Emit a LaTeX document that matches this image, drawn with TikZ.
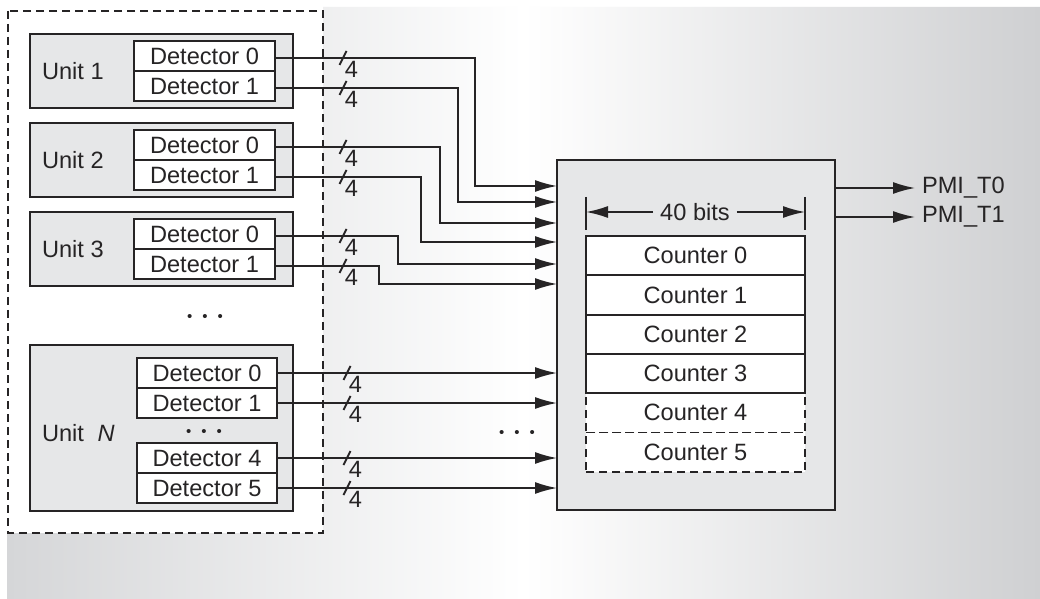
\documentclass[tikz,border=0pt]{standalone}
\usepackage{fontspec}
\setmainfont{Liberation Sans}
\usetikzlibrary{arrows.meta, positioning, math}
\definecolor{ink}{RGB}{38,36,37}
\definecolor{unitgray}{RGB}{230,231,232}
\definecolor{bgleft}{RGB}{213,214,216}
\definecolor{bgright}{RGB}{207,208,210}
\newcommand{\dotrow}{{\fontsize{7.5}{8}\selectfont\textbullet\hspace{5pt}\textbullet\hspace{5pt}\textbullet}}

\begin{document}
\begin{tikzpicture}[x=0.5pt, y=-0.5pt, font=\fontsize{11.8}{14}\selectfont, text=ink,
  box/.style={draw=ink, line width=0.9pt, inner sep=0pt, outer sep=0pt, anchor=north west},
  unitbox/.style={box, fill=unitgray, minimum width=131.5pt},
  detbox/.style={box, fill=white, minimum width=70.5pt, minimum height=15pt},
  cntrow/.style={box, fill=white, minimum width=109.5pt, minimum height=19.65pt},
  dashbox/.style={dash pattern=on 4pt off 2.5pt},
  sig/.style={draw=ink, line width=0.8pt},
  arr/.style={sig, -{Latex[length=11pt, width=6pt]}}]
\tikzmath{
\rowh=39.3;
\rowtop=236;
}
\useasboundingbox (0,0) rectangle (1040,599);

%background
\fill[white] (0,0) rectangle (1040,599);
\shade[left color=bgleft, right color=bgright, middle color=white]
  (323,7) -- (1040,7) -- (1040,599) -- (7,599) -- (7,533) -- (323,533) -- cycle;
\draw[ink, line width=0.8pt, dashbox] (8,11) rectangle (323,533);

%units 1 to 3
\foreach \k/\uy in {1/34, 2/123, 3/212}{
  \node[unitbox, minimum height=37pt] (u\k) at (30,\uy) {};
  \node[anchor=west] (u\k-lbl) at (35,{\uy+37}) {Unit \k};
  \node[detbox] (u\k-d0) at (134,{\uy+7}) {Detector 0};
  \node[detbox, below=0pt of u\k-d0] (u\k-d1) {Detector 1};
}
\node (dotsU) at (205,318) {\dotrow};

%unit N
\node[unitbox, minimum height=83pt] (uN) at (30,345) {};
\node[anchor=west] (uN-lbl) at (35,433) {Unit\hspace{0.3em} \textit{N}};
\node[detbox, minimum width=70pt] (uN-d0) at (137,358) {Detector 0};
\node[detbox, minimum width=70pt, below=0pt of uN-d0] (uN-d1) {Detector 1};
\node (dotsN) at (204,433) {\dotrow};
\node[detbox, minimum width=70pt] (uN-d4) at (137,443) {Detector 4};
\node[detbox, minimum width=70pt, below=0pt of uN-d4] (uN-d5) {Detector 5};

%counter block
\node[box, fill=unitgray, minimum width=139pt, minimum height=175pt] (cnt) at (557,160) {};
\foreach \i in {4,5}
  \node[cntrow, dashbox] (c\i) at (586,{\rowtop+\i*\rowh}) {Counter \i};
\foreach \i in {0,...,3}
  \node[cntrow] (c\i) at (586,{\rowtop+\i*\rowh}) {Counter \i};

%width of counters
\coordinate (bitsL) at (586,212);
\coordinate (bitsR) at (805,212);
\draw[sig] ([yshift=7.5pt]bitsL) -- ([yshift=-9pt]bitsL);
\draw[sig] ([yshift=7.5pt]bitsR) -- ([yshift=-9pt]bitsR);
\node (bits) at (695,212) {40 bits};
\draw[arr] (bits) -- (bitsL);
\draw[arr] (bits) -- (bitsR);

%outputs
\node[anchor=west] (pmi0) at (915,188) {PMI\_T0};
\node[anchor=west] (pmi1) at (915,217) {PMI\_T1};
\draw[arr] (cnt.east |- pmi0) -- (pmi0.west);
\draw[arr] (cnt.east |- pmi1) -- (pmi1.west);

%signals from units 1 to 3
\foreach \s/\bx/\iy in {u1-d0/475/186, u1-d1/458/202, u2-d0/440/223,
                       u2-d1/421/242, u3-d0/398/264, u3-d1/379/284}{
  \coordinate (in) at (\bx,\iy);
  \draw[arr] ([yshift=-1pt]\s.east) -| (in) -- (in -| cnt.west);
}

%signals from unit N
\foreach \s in {uN-d0, uN-d1, uN-d4, uN-d5}
  \draw[arr] (\s.east) -- (\s.east -| cnt.west);
\node (dotsR) at (517,434) {\dotrow};

%bus widths
\foreach \s/\dx/\dy in {u1-d0/34pt/-1pt, u1-d1/34pt/-1pt, u2-d0/34pt/-1pt, u2-d1/34pt/-1pt,
                        u3-d0/34pt/-1pt, u3-d1/34pt/-1pt,
                        uN-d0/35pt/0pt, uN-d1/35pt/0pt, uN-d4/35pt/0pt, uN-d5/35pt/0pt}{
  \draw[sig, line width=1pt] ([xshift=\dx, yshift=\dy]\s.east) ++(-3.5,7) -- ++(7,-14);
  \node (bus-\s) at ([xshift=\dx+4.25pt, yshift=\dy-5.5pt]\s.east) {4};
}
\end{tikzpicture}
\end{document}
